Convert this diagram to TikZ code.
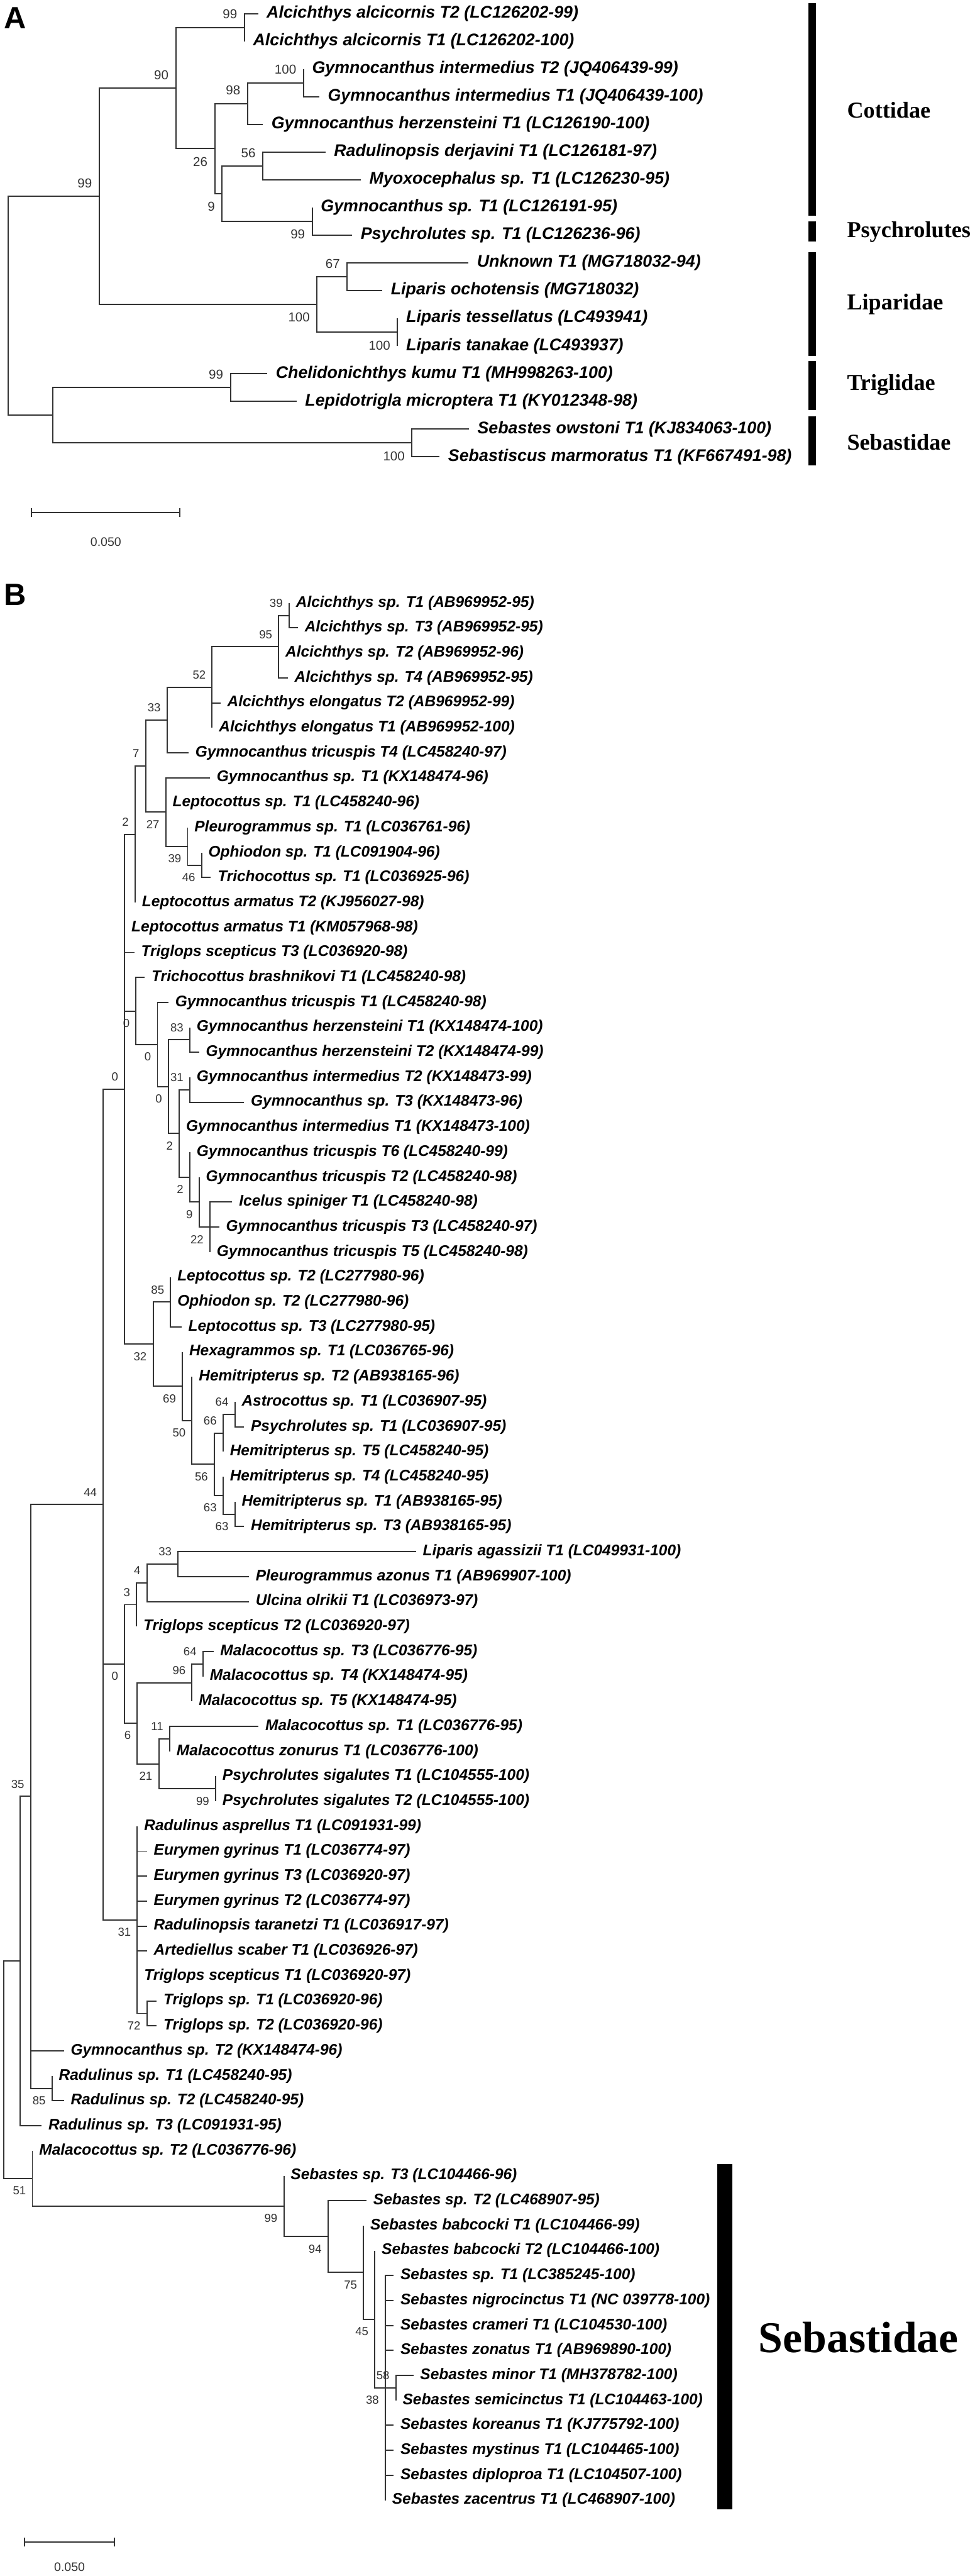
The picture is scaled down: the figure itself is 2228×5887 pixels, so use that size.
\documentclass[tikz,border=0pt]{standalone}
\usepackage{fontspec}
\setmainfont{Liberation Sans}
\newfontfamily\famfont{Liberation Serif}
\usetikzlibrary{arrows.meta,calc}
\tikzset{
    tree picture/.style = {x=0.01cm, y=-0.01cm},
    branch/.style       = {draw=black!80, line width=0.8pt},
    taxon A/.style      = {anchor=west, inner sep=0pt,
                           font=\fontsize{10.95}{12}\selectfont\bfseries\itshape},
    taxon B/.style      = {anchor=west, inner sep=0pt,
                           font=\fontsize{10}{11}\selectfont\bfseries\itshape},
    boot A/.style       = {anchor=east, inner sep=0pt, text=black!80,
                           font=\fontsize{8.4}{9}\selectfont},
    boot B/.style       = {anchor=east, inner sep=0pt, text=black!80,
                           font=\fontsize{7.6}{8}\selectfont},
    panel/.style        = {anchor=base west, inner sep=0pt,
                           font=\fontsize{20}{22}\selectfont\bfseries},
    scale bar/.style    = {draw=black!80, line width=0.8pt,
                           {Bar[width=0.2cm]}-{Bar[width=0.2cm]}},
    scale text/.style   = {inner sep=0pt, text=black!80,
                           font=\fontsize{8}{9}\selectfont},
    family bar A/.style = {line width=0.18cm},
    family bar B/.style = {line width=0.35cm},
    family A/.style     = {anchor=west, inner sep=0pt,
                           font=\famfont\fontsize{14.8}{16}\selectfont\bfseries},
    family B/.style     = {anchor=west, inner sep=0pt,
                           font=\famfont\fontsize{28.5}{30}\selectfont\bfseries}
}

\begin{document}
\begin{tikzpicture}[tree picture]
\useasboundingbox (0,0) rectangle (2228,5887);

% ---------------- Panel A ----------------
\node[panel] (panelA) at (9,65) {A};

% Leaves
\foreach \i/\tx/\txt in {
    1/590/{Alcichthys alcicornis T2 (LC126202-99)},
    2/559/{Alcichthys alcicornis T1 (LC126202-100)},
    3/694/{Gymnocanthus intermedius T2 (JQ406439-99)},
    4/730/{Gymnocanthus intermedius T1 (JQ406439-100)},
    5/601/{Gymnocanthus herzensteini T1 (LC126190-100)},
    6/744/{Radulinopsis derjavini T1 (LC126181-97)},
    7/825/{Myoxocephalus sp. T1 (LC126230-95)},
    8/714/{Gymnocanthus sp. T1 (LC126191-95)},
    9/805/{Psychrolutes sp. T1 (LC126236-96)},
    10/1071/{Unknown T1 (MG718032-94)},
    11/874/{Liparis ochotensis (MG718032)},
    12/909/{Liparis tessellatus (LC493941)},
    13/909/{Liparis tanakae (LC493937)},
    14/611/{Chelidonichthys kumu T1 (MH998263-100)},
    15/678/{Lepidotrigla microptera T1 (KY012348-98)},
    16/1072/{Sebastes owstoni T1 (KJ834063-100)},
    17/1005/{Sebastiscus marmoratus T1 (KF667491-98)}}
{
    \coordinate (a\i) at (\tx, {31+(\i-1)*63.3});
    \node[taxon A] (ta\i) at (\tx+19, {31+(\i-1)*63.3}) {\txt};
}

% Internal nodes
\foreach \n/\x/\y in {rA/18/698.6, A99/227/448.4, A90/402/201.1,
    A99a/559/62.6, A26/491/339.6, A98/566/236.7, A100/694/189.25,
    A9/508/442.45, A56/601/379.15, A99b/714/505.75, A100b/725/695.65,
    A67/794/632.35, A100c/909/758.95, Ats/121/948.85, A99t/527/885.55,
    A100s/942/1012.15}
    \coordinate (n\n) at (\x,\y);

% Branches
\foreach \p/\c in {nrA/nA99, nrA/nAts, nA99/nA90, nA99/nA100b,
    nA90/nA99a, nA90/nA26, nA99a/a1, nA99a/a2, nA26/nA98, nA26/nA9,
    nA98/nA100, nA98/a5, nA100/a3, nA100/a4, nA9/nA56, nA9/nA99b,
    nA56/a6, nA56/a7, nA99b/a8, nA99b/a9, nA100b/nA67, nA100b/nA100c,
    nA67/a10, nA67/a11, nA100c/a12, nA100c/a13, nAts/nA99t,
    nAts/nA100s, nA99t/a14, nA99t/a15, nA100s/a16, nA100s/a17}
    \draw[branch] (\p) |- (\c);

% Bootstrap values
\foreach \n/\v/\dy in {A99a/99/-30, A90/90/-30, A100/100/-30,
    A98/98/-30, A26/26/30, A56/56/-30, A9/9/30, A99b/99/30,
    A99/99/-30, A67/67/-30, A100b/100/30, A100c/100/30,
    A99t/99/-30, A100s/100/30}
    \node[boot A] (bs\n) at ($(n\n)+(-16,\dy)$) {\v};

% Family bars
\foreach \f/\top/\bot/\mid/\txt in {cot/7/493/252/Cottidae,
    psy/506/552/530/Psychrolutes, lip/576/813/695/Liparidae,
    tri/825/937/880/Triglidae, seb/952/1063/1011/Sebastidae}
{
    \coordinate (\f top) at (1857,\top);
    \coordinate (\f bot) at (1857,\bot);
    \draw[family bar A] (\f top) -- (\f bot);
    \node[family A] (\f lab) at (1936,\mid) {\txt};
}

% Scale bar
\coordinate (sA0) at (70,1171);
\coordinate (sA1) at (412,1171);
\draw[scale bar] (sA0) -- (sA1);
\node[scale text] (sAlab) at (242,1238) {0.050};

% ---------------- Panel B ----------------
\node[panel] (panelB) at (8,1384) {B};

% Leaves
\foreach \i/\tx/\txt in {
    1/661/{Alcichthys sp. T1 (AB969952-95)},
    2/681/{Alcichthys sp. T3 (AB969952-95)},
    3/637/{Alcichthys sp. T2 (AB969952-96)},
    4/658/{Alcichthys sp. T4 (AB969952-95)},
    5/504/{Alcichthys elongatus T2 (AB969952-99)},
    6/485/{Alcichthys elongatus T1 (AB969952-100)},
    7/431/{Gymnocanthus tricuspis T4 (LC458240-97)},
    8/480/{Gymnocanthus sp. T1 (KX148474-96)},
    9/379/{Leptocottus sp. T1 (LC458240-96)},
    10/429/{Pleurogrammus sp. T1 (LC036761-96)},
    11/461/{Ophiodon sp. T1 (LC091904-96)},
    12/482/{Trichocottus sp. T1 (LC036925-96)},
    13/309/{Leptocottus armatus T2 (KJ956027-98)},
    14/285/{Leptocottus armatus T1 (KM057968-98)},
    15/307/{Triglops scepticus T3 (LC036920-98)},
    16/331/{Trichocottus brashnikovi T1 (LC458240-98)},
    17/385/{Gymnocanthus tricuspis T1 (LC458240-98)},
    18/434/{Gymnocanthus herzensteini T1 (KX148474-100)},
    19/455/{Gymnocanthus herzensteini T2 (KX148474-99)},
    20/434/{Gymnocanthus intermedius T2 (KX148473-99)},
    21/558/{Gymnocanthus sp. T3 (KX148473-96)},
    22/410/{Gymnocanthus intermedius T1 (KX148473-100)},
    23/434/{Gymnocanthus tricuspis T6 (LC458240-99)},
    24/455/{Gymnocanthus tricuspis T2 (LC458240-98)},
    25/531/{Icelus spiniger T1 (LC458240-98)},
    26/501/{Gymnocanthus tricuspis T3 (LC458240-97)},
    27/480/{Gymnocanthus tricuspis T5 (LC458240-98)},
    28/390/{Leptocottus sp. T2 (LC277980-96)},
    29/390/{Ophiodon sp. T2 (LC277980-96)},
    30/415/{Leptocottus sp. T3 (LC277980-95)},
    31/417/{Hexagrammos sp. T1 (LC036765-96)},
    32/439/{Hemitripterus sp. T2 (AB938165-96)},
    33/537/{Astrocottus sp. T1 (LC036907-95)},
    34/558/{Psychrolutes sp. T1 (LC036907-95)},
    35/510/{Hemitripterus sp. T5 (LC458240-95)},
    36/510/{Hemitripterus sp. T4 (LC458240-95)},
    37/537/{Hemitripterus sp. T1 (AB938165-95)},
    38/558/{Hemitripterus sp. T3 (AB938165-95)},
    39/951/{Liparis agassizii T1 (LC049931-100)},
    40/569/{Pleurogrammus azonus T1 (AB969907-100)},
    41/569/{Ulcina olrikii T1 (LC036973-97)},
    42/312/{Triglops scepticus T2 (LC036920-97)},
    43/488/{Malacocottus sp. T3 (LC036776-95)},
    44/464/{Malacocottus sp. T4 (KX148474-95)},
    45/439/{Malacocottus sp. T5 (KX148474-95)},
    46/591/{Malacocottus sp. T1 (LC036776-95)},
    47/388/{Malacocottus zonurus T1 (LC036776-100)},
    48/493/{Psychrolutes sigalutes T1 (LC104555-100)},
    49/493/{Psychrolutes sigalutes T2 (LC104555-100)},
    50/314/{Radulinus asprellus T1 (LC091931-99)},
    51/336/{Eurymen gyrinus T1 (LC036774-97)},
    52/336/{Eurymen gyrinus T3 (LC036920-97)},
    53/336/{Eurymen gyrinus T2 (LC036774-97)},
    54/336/{Radulinopsis taranetzi T1 (LC036917-97)},
    55/336/{Artediellus scaber T1 (LC036926-97)},
    56/314/{Triglops scepticus T1 (LC036920-97)},
    57/358/{Triglops sp. T1 (LC036920-96)},
    58/358/{Triglops sp. T2 (LC036920-96)},
    59/146/{Gymnocanthus sp. T2 (KX148474-96)},
    60/119/{Radulinus sp. T1 (LC458240-95)},
    61/146/{Radulinus sp. T2 (LC458240-95)},
    62/95/{Radulinus sp. T3 (LC091931-95)},
    63/74/{Malacocottus sp. T2 (LC036776-96)},
    64/649/{Sebastes sp. T3 (LC104466-96)},
    65/838/{Sebastes sp. T2 (LC468907-95)},
    66/831/{Sebastes babcocki T1 (LC104466-99)},
    67/857/{Sebastes babcocki T2 (LC104466-100)},
    68/900/{Sebastes sp. T1 (LC385245-100)},
    69/900/{Sebastes nigrocinctus T1 (NC 039778-100)},
    70/900/{Sebastes crameri T1 (LC104530-100)},
    71/900/{Sebastes zonatus T1 (AB969890-100)},
    72/945/{Sebastes minor T1 (MH378782-100)},
    73/905/{Sebastes semicinctus T1 (LC104463-100)},
    74/900/{Sebastes koreanus T1 (KJ775792-100)},
    75/900/{Sebastes mystinus T1 (LC104465-100)},
    76/900/{Sebastes diploproa T1 (LC104507-100)},
    77/881/{Sebastes zacentrus T1 (LC468907-100)}}
{
    \coordinate (b\i) at (\tx, {1378+(\i-1)*57.05});
    \node[taxon B] (tb\i) at (\tx+15, {1378+(\i-1)*57.05}) {\txt};
}

% Internal nodes
\foreach \n/\x/\y in {rB/9/4730, B46r/46/4481.7, B35/70/4105.4,
    B85b/119/4772.5, B44/236/3438.3, BU0/285/2489.15, B2/309/1906.6,
    B7/333/1750.6, B33/382/1645.4, B52/485/1570.5, B95/637/1477.8,
    B39/661/1406.5, B27/379/1855.8, B39b/429/1934.2, B46/461/1977,
    BT/311/2310.4, B0b/360/2387.1, B0c/385/2483.35, B83/434/2376.4,
    B2b/410/2590.3, B31/434/2490.5, B2c/434/2690.15, B9/455/2747.2,
    B22/480/2804.25, B32/350/3071.7, B85/390/2975.4, B69/417/3167.95,
    B50/439/3246.4, B56/490/3346.2, B66/510/3274.9, B64/537/3232.1,
    B63a/510/3417.5, B63b/537/3460.3, BL0/285/3802.6, B3/312/3667.1,
    B4/336/3617.2, B33b/407/3574.4, B6/314/3938.1, B96/439/3845.4,
    B64b/464/3802.6, B21/363/4030.85, B11/388/3973.8, B99p/493/4087.9,
    B31b/314/4387.4, B72/336/4601.3, B51/74/4978.4, B99s/649/5041.7,
    B94/750/5111.2, B75/831/5193.2, B45/857/5300.2, B38/881/5457.1,
    B58/905/5457.1}
    \coordinate (n\n) at (\x,\y);

% Branches
\foreach \p/\c in {nrB/nB46r, nrB/nB51, nB46r/nB35, nB46r/b62,
    nB35/nB44, nB35/b59, nB35/nB85b, nB85b/b60, nB85b/b61,
    nB44/nBU0, nB44/nBL0, nB44/nB31b,
    nBU0/nB2, nBU0/b14, nBU0/b15, nBU0/nBT, nBU0/nB32,
    nB2/nB7, nB2/b13, nB7/nB33, nB7/nB27, nB33/nB52, nB33/b7,
    nB52/nB95, nB52/b5, nB52/b6, nB95/nB39, nB95/b3, nB95/b4,
    nB39/b1, nB39/b2, nB27/b8, nB27/b9, nB27/nB39b,
    nB39b/b10, nB39b/nB46, nB46/b11, nB46/b12,
    nBT/b16, nBT/nB0b, nB0b/b17, nB0b/nB0c, nB0c/nB83, nB0c/nB2b,
    nB83/b18, nB83/b19, nB2b/nB31, nB2b/b22, nB2b/nB2c,
    nB31/b20, nB31/b21, nB2c/b23, nB2c/nB9, nB9/b24, nB9/nB22,
    nB22/b25, nB22/b26, nB22/b27,
    nB32/nB85, nB32/nB69, nB85/b28, nB85/b29, nB85/b30,
    nB69/b31, nB69/nB50, nB50/b32, nB50/nB56, nB56/nB66, nB56/nB63a,
    nB66/nB64, nB66/b35, nB64/b33, nB64/b34,
    nB63a/b36, nB63a/nB63b, nB63b/b37, nB63b/b38,
    nBL0/nB3, nBL0/nB6, nB3/nB4, nB3/b42, nB4/nB33b, nB4/b41,
    nB33b/b39, nB33b/b40, nB6/nB96, nB6/nB21, nB96/nB64b, nB96/b45,
    nB64b/b43, nB64b/b44, nB21/nB11, nB21/nB99p, nB11/b46, nB11/b47,
    nB99p/b48, nB99p/b49,
    nB31b/b50, nB31b/b51, nB31b/b52, nB31b/b53, nB31b/b54, nB31b/b55,
    nB31b/b56, nB31b/nB72, nB72/b57, nB72/b58,
    nB51/b63, nB51/nB99s, nB99s/b64, nB99s/nB94, nB94/b65, nB94/nB75,
    nB75/b66, nB75/nB45, nB45/b67, nB45/nB38,
    nB38/b68, nB38/b69, nB38/b70, nB38/b71, nB38/nB58,
    nB38/b74, nB38/b75, nB38/b76, nB38/b77, nB58/b72, nB58/b73}
    \draw[branch] (\p) |- (\c);

% Bootstrap values
\foreach \n/\v/\dy in {B39/39/-28, B95/95/-28, B52/52/-28, B33/33/-28,
    B7/7/-28, B2/2/-28, B27/27/28, B39b/39/28, B46/46/28, BU0/0/-28,
    BT/0/28, B0b/0/28, B83/83/-28, B0c/0/28, B31/31/-28, B2b/2/28,
    B2c/2/28, B9/9/28, B22/22/28, B85/85/-28, B32/32/28, B69/69/28,
    B50/50/28, B56/56/28, B66/66/-28, B64/64/-28, B63a/63/28,
    B63b/63/28, B44/44/-28, BL0/0/28, B3/3/-28, B4/4/-28, B33b/33/-28,
    B6/6/28, B96/96/-28, B64b/64/-28, B21/21/28, B11/11/-28,
    B99p/99/28, B31b/31/28, B72/72/28, B35/35/-28, B85b/85/28,
    B51/51/28, B99s/99/28, B94/94/28, B75/75/28, B45/45/28,
    B38/38/28, B58/58/-28}
    \node[boot B] (bs\n) at ($(n\n)+(-14,\dy)$) {\v};

% Family bar
\coordinate (sebBtop) at (1657,4945);
\coordinate (sebBbot) at (1657,5735);
\draw[family bar B] (sebBtop) -- (sebBbot);
\node[family B] (sebBlab) at (1734,5341) {Sebastidae};

% Scale bar
\coordinate (sB0) at (54,5809);
\coordinate (sB1) at (263,5809);
\draw[scale bar] (sB0) -- (sB1);
\node[scale text] (sBlab) at (159,5866) {0.050};

\end{tikzpicture}
\end{document}
